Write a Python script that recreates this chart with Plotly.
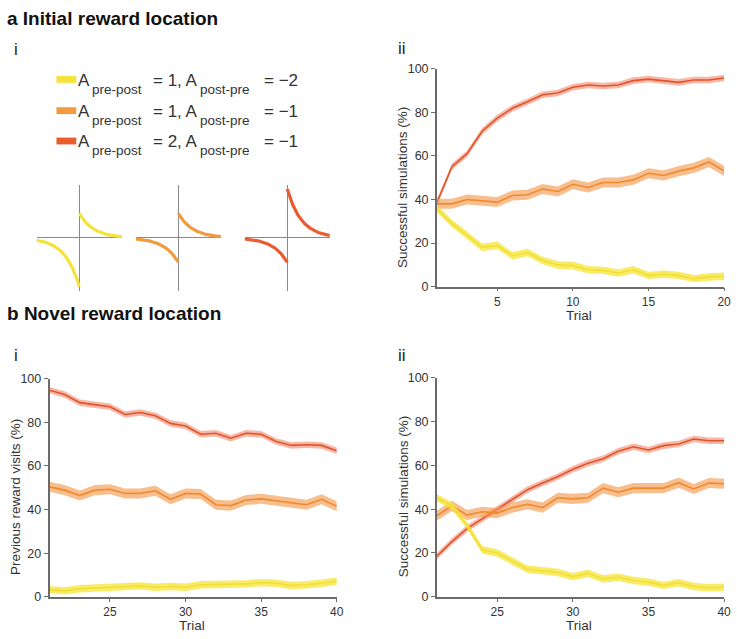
import numpy as np
import plotly.graph_objects as go

W, H = 737, 639

# ---------------- data ----------------
trials_a = list(range(1, 21))
a_yellow = [35.8, 29, 23.6, 18, 19, 14.2, 15.7, 12, 10, 9.7, 7.8, 7.5, 6.3, 7.8, 5.2, 5.7, 5.2, 3.7, 4.5, 4.8]
a_orange = [38, 38, 40, 39.5, 38.8, 41.8, 42.2, 44.8, 43.7, 47, 45.5, 47.8, 47.8, 49, 52, 51, 53, 54.5, 57.2, 53.1]
a_red = [38.5, 55, 61, 71.3, 77.3, 81.8, 84.8, 88, 88.8, 91.5, 92.5, 92, 92.5, 94.5, 95.2, 94.5, 93.7, 94.8, 94.8, 95.7]

trials_b = list(range(21, 41))
b1_yellow = [3.3, 2.7, 3.7, 4, 4.1, 4.4, 5, 4.4, 4.7, 4.4, 5.5, 5.6, 5.8, 5.9, 6.5, 6.2, 5.2, 5.5, 6.2, 7.1]
b1_orange = [50.4, 48.9, 46.4, 48.9, 49.3, 47.4, 47.4, 48.6, 44.7, 47.4, 47.1, 42.2, 41.8, 44.4, 44.9, 44.1, 43, 42.2, 44.7, 41.5]
b1_red = [94.7, 92.7, 89, 88.2, 87.1, 83.6, 84.5, 83, 79.5, 78.3, 74.5, 75, 72.7, 75, 74.5, 71.2, 69.4, 69.7, 69.4, 67]

b2_yellow = [45.2, 41.5, 32.6, 21.5, 20, 16.3, 12.6, 11.9, 11.1, 9.2, 10.7, 8.1, 8.9, 7.4, 6.7, 5.2, 6.4, 4.7, 4.1, 4.4]
b2_orange = [37, 41.5, 37.3, 38.8, 38.2, 40.7, 42.2, 40.7, 45.2, 44.7, 45.2, 49.6, 47.7, 49.6, 49.6, 49.6, 52.1, 49.2, 51.9, 51.6]
b2_red = [18.5, 25.2, 31.1, 35.6, 40, 44.4, 48.9, 51.9, 54.8, 58.2, 61, 63, 66.4, 68.5, 67, 69, 69.7, 72, 71.2, 71.2]

sem_yellow, sem_orange, sem_red = 1.7, 2.3, 1.5

a_pre_post = [1, 1, 2]
a_post_pre = [-2, -1, -1]
tau_ms = 33

y_ticks = [0, 20, 40, 60, 80, 100]
x_ticks_a = [5, 10, 15, 20]
x_ticks_b = [25, 30, 35, 40]

# ---------------- styles ----------------
FONT = "Liberation Sans, Arial, sans-serif"
TXT = "#333333"
AX = "#6b6b6b"
col_line = {"y": "#F2DF34", "o": "#EE8A30", "r": "#E2532A"}
col_band = {"y": "rgba(246,230,60,0.78)", "o": "rgba(243,150,72,0.62)", "r": "rgba(240,125,95,0.55)"}
col_swatch = {"y": "#F5E33B", "o": "#F29A3F", "r": "#EA5C2E"}
sems = {"y": sem_yellow, "o": sem_orange, "r": sem_red}


def px(x):
    return x / W


def py(y):
    return 1 - y / H


fig = go.Figure()


def add_series(xs, ys, key, xa, ya):
    up = [v + sems[key] for v in ys]
    lo = [v - sems[key] for v in ys]
    fig.add_trace(go.Scatter(x=xs, y=up, mode="lines", line=dict(width=0, color=col_band[key]),
                             xaxis=xa, yaxis=ya, showlegend=False, hoverinfo="skip"))
    fig.add_trace(go.Scatter(x=xs, y=lo, mode="lines", line=dict(width=0, color=col_band[key]),
                             fill="tonexty", fillcolor=col_band[key],
                             xaxis=xa, yaxis=ya, showlegend=False, hoverinfo="skip"))
    fig.add_trace(go.Scatter(x=xs, y=ys, mode="lines", line=dict(width=1.6, color=col_line[key]),
                             xaxis=xa, yaxis=ya, showlegend=False))


for key, ys in (("r", a_red), ("o", a_orange), ("y", a_yellow)):
    add_series(trials_a, ys, key, "x", "y")
for key, ys in (("r", b1_red), ("o", b1_orange), ("y", b1_yellow)):
    add_series(trials_b, ys, key, "x2", "y2")
for key, ys in (("r", b2_red), ("o", b2_orange), ("y", b2_yellow)):
    add_series(trials_b, ys, key, "x3", "y3")

# STDP kernels
t_pos = np.linspace(0, 100, 120)
t_neg = np.linspace(-100, 0, 120)
for i, key in enumerate(("y", "o", "r")):
    xa, ya = f"x{4 + i}", f"y{4 + i}"
    fig.add_trace(go.Scatter(x=t_pos, y=a_pre_post[i] * np.exp(-t_pos / tau_ms), mode="lines",
                             line=dict(width=3.2, color=col_swatch[key]), xaxis=xa, yaxis=ya,
                             showlegend=False))
    fig.add_trace(go.Scatter(x=t_neg, y=a_post_pre[i] * np.exp(t_neg / tau_ms), mode="lines",
                             line=dict(width=3.2, color=col_swatch[key]), xaxis=xa, yaxis=ya,
                             showlegend=False))


def main_x(dom, rng, tv, anchor):
    return dict(domain=[px(dom[0]), px(dom[1])], range=rng, tickvals=tv, anchor=anchor,
                showline=True, linecolor=AX, linewidth=1.5, ticks="outside", ticklen=3,
                tickcolor=AX, tickwidth=1.2, showgrid=False, zeroline=False,
                tickfont=dict(family=FONT, size=12, color=TXT))


def main_y(dom, anchor):
    return dict(domain=[py(dom[1]), py(dom[0])], range=[0, 100], tickvals=y_ticks, anchor=anchor,
                showline=True, linecolor=AX, linewidth=1.5, ticks="outside", ticklen=4,
                tickcolor=AX, tickwidth=1.2, showgrid=False, zeroline=False,
                tickfont=dict(family=FONT, size=12.5, color=TXT))


def kern_x(x0, x1, anchor):
    return dict(domain=[px(x0), px(x1)], range=[-100, 100], anchor=anchor, showgrid=False,
                zeroline=True, zerolinecolor="#8a8a8a", zerolinewidth=1, showticklabels=False,
                showline=False, ticks="")


def kern_y(anchor):
    return dict(domain=[py(290), py(182)], range=[-2.16, 2.16], anchor=anchor, showgrid=False,
                zeroline=True, zerolinecolor="#8a8a8a", zerolinewidth=1, showticklabels=False,
                showline=False, ticks="")


layout = dict(
    width=W, height=H, margin=dict(l=0, r=0, t=0, b=0),
    paper_bgcolor="white", plot_bgcolor="rgba(0,0,0,0)", showlegend=False,
    xaxis=main_x((441, 731), [1, 20], x_ticks_a, "y"),
    yaxis=main_y((63, 286), "x"),
    xaxis2=main_x((50, 340), [21, 40], x_ticks_b, "y2"),
    yaxis2=main_y((380, 603), "x2"),
    xaxis3=main_x((441, 731), [21, 40], x_ticks_b, "y3"),
    yaxis3=main_y((379, 603), "x3"),
    xaxis4=kern_x(37, 123, "y4"), yaxis4=kern_y("x4"),
    xaxis5=kern_x(137, 223, "y5"), yaxis5=kern_y("x5"),
    xaxis6=kern_x(247, 333, "y6"), yaxis6=kern_y("x6"),
)
fig.update_layout(**layout)

ann = []


def text(x, y, s, size, xanchor="left", yanchor="middle", bold=False, angle=0, color=TXT):
    ann.append(dict(x=px(x), y=py(y), xref="paper", yref="paper", text=s, showarrow=False,
                    xanchor=xanchor, yanchor=yanchor, textangle=angle,
                    font=dict(family=FONT, size=size, color=color if not bold else "#111"),
                    borderpad=0))


text(6, 12, "<b>a Initial reward location</b>", 19, bold=True)
text(6, 313, "<b>b Novel reward location</b>", 19, bold=True)
text(13, 43, "i", 17, color="#222")
text(401, 42, "ii", 17, color="#222")
text(13, 356, "i", 17, color="#222")
text(401, 356, "ii", 17, color="#222")

text(407, 185, "Successful simulations (%)", 13.5, xanchor="center", angle=-90)
text(15, 501, "Previous reward visits (%)", 13.5, xanchor="center", angle=-90)
text(407, 501, "Successful simulations (%)", 13.5, xanchor="center", angle=-90)
text(585, 315, "Trial", 13.5, xanchor="center")
text(194, 632, "Trial", 13.5, xanchor="center")
text(585, 632, "Trial", 13.5, xanchor="center")

# legend
shapes = []
leg_y = [74, 106, 137]
for i, key in enumerate(("y", "o", "r")):
    yc = leg_y[i]
    shapes.append(dict(type="rect", xref="paper", yref="paper", x0=px(57), x1=px(77),
                       y0=py(yc + 3.5), y1=py(yc - 3.5), fillcolor=col_swatch[key], line=dict(width=0)))
    text(78, yc + 1, "A", 17)
    text(92, yc + 10, "pre-post", 13.5)
    text(153, yc + 1, f"= {a_pre_post[i]}, A", 17)
    text(201, yc + 10, "post-pre", 13.5)
    text(266, yc + 1, f"= \u2212{abs(a_post_pre[i])}", 17)

fig.update_layout(annotations=ann, shapes=shapes)
fig.write_html(
    "out.html",
    config={"displayModeBar": False},
    post_script="document.body.style.margin='0';document.body.style.padding='0';"
                "document.body.style.overflow='hidden';",
)
